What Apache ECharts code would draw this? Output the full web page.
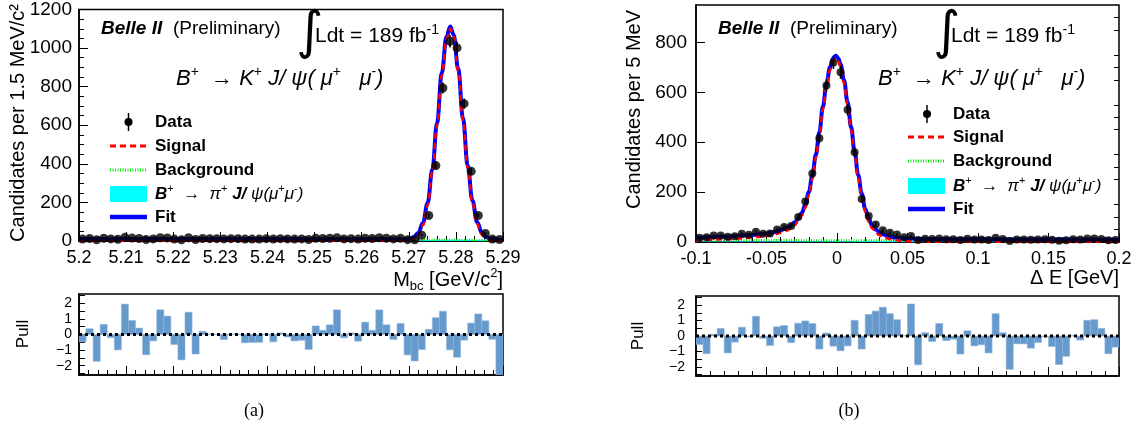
<!DOCTYPE html>
<html>
<head>
<meta charset="utf-8">
<title>B+ to K+ J/psi fits</title>
<script src="https://cdn.jsdelivr.net/npm/echarts@6.0.0/dist/echarts.min.js"></script>
<style>
  html, body { margin: 0; padding: 0; background: #fff; }
  #chart { width: 1141px; height: 434px; }
</style>
</head>
<body>
<div id="chart"></div>
<script>
const FONT = '"Liberation Sans", Arial, Helvetica, sans-serif';

// (a) Mbc, 60 bins of 1.5 MeV from 5.20 to 5.29
const mbcRange = [5.2, 5.29];
const mbcBinWidth = 0.0015;
const mbcCounts = [
  10, 13, 6, 14, 11, 9, 19, 15, 13, 8,
  11, 17, 16, 10, 6, 17, 8, 13, 12, 12,
  11, 12, 12, 10, 10, 10, 12, 10, 12, 11,
  10, 11, 8, 14, 13, 14, 17, 11, 12, 10,
  14, 13, 17, 14, 11, 14, 7, 6, 30, 132,
  391, 793, 1035, 1001, 712, 361, 132, 39, 10, 8
];
const mbcPull = [
  -0.47, 0.37, -1.72, 0.65, -0.2, -0.99, 1.95, 0.9, 0.41, -1.3,
  -0.41, 1.58, 1.18, -0.64, -1.63, 1.43, -1.25, 0.2, 0.02, 0.01,
  -0.32, 0.01, 0.01, -0.53, -0.51, -0.5, 0.03, -0.47, 0.1, -0.16,
  -0.41, -0.37, -0.96, 0.55, 0.27, 0.62, 1.58, -0.21, 0.1, -0.43,
  0.79, 0.27, 1.58, 0.62, -0.32, 0.71, -1.31, -1.7, -0.96, 0.33,
  1.08, 1.49, -0.98, -1.46, -0.36, 0.73, 1.32, 0.88, -0.31, -2.7
];
const mbcFit = [
  [5.2, 11], [5.22, 11], [5.24, 10], [5.26, 9], [5.268, 8.5], [5.27, 11],
  [5.271, 19], [5.272, 42], [5.273, 93], [5.274, 197], [5.275, 371],
  [5.276, 612], [5.277, 869], [5.278, 1059], [5.2788, 1112], [5.2795, 1071],
  [5.2805, 891], [5.2815, 637], [5.2825, 392], [5.2835, 210], [5.2845, 99],
  [5.2855, 44], [5.2865, 19], [5.2875, 11], [5.29, 5]
];
const mbcSignal = [
  [5.2, 0], [5.268, 0], [5.27, 3], [5.271, 10], [5.272, 31], [5.273, 81],
  [5.274, 185], [5.275, 359], [5.276, 599], [5.277, 856], [5.278, 1047],
  [5.2788, 1100], [5.2795, 1059], [5.2805, 879], [5.2815, 625], [5.2825, 381],
  [5.2835, 199], [5.2845, 89], [5.2855, 34], [5.2865, 11], [5.2875, 3], [5.29, 0]
];
const mbcBackground = [
  [5.2, 11], [5.22, 11], [5.24, 10], [5.26, 9], [5.27, 8], [5.275, 7],
  [5.28, 6], [5.285, 4], [5.2875, 3], [5.29, 0]
];
const mbcPiJpsi = [[5.2705, 0], [5.2725, 4], [5.276, 6], [5.282, 6], [5.2875, 5], [5.29, 5]];

// (b) Delta E, 60 bins of 5 MeV from -0.1 to 0.2
const deRange = [-0.1, 0.2];
const deBinWidth = 0.005;
const deCounts = [
  17, 19, 26, 26, 21, 23, 33, 29, 41, 33,
  34, 50, 60, 64, 100, 162, 275, 416, 627, 720,
  680, 530, 360, 172, 104, 70, 47, 37, 30, 19,
  24, 8, 13, 12, 14, 11, 11, 8, 13, 10,
  10, 8, 17, 12, 4, 10, 10, 9, 10, 11,
  9, 5, 7, 11, 10, 14, 14, 12, 7, 8
];
const dePull = [
  -0.55, -1.15, 0.1, 0.49, -1.1, -0.4, 0.57, -0.05, 1.28, -0.15,
  -0.62, 0.6, 0.68, -0.43, 0.83, 0.98, 0.81, -0.85, 0.19, -0.66,
  -0.96, -0.64, 1.02, -0.85, 1.4, 1.62, 1.87, 1.45, 1.06, 0.02,
  2.08, -1.87, 0.21, -0.36, 0.81, -0.3, -0.21, -1.17, 0.34, -0.64,
  -0.57, -1.1, 1.45, 0.21, -2.17, -0.51, -0.51, -0.79, -0.43, -0.05,
  -0.68, -1.85, -1.32, 0.02, -0.26, 1.02, 1.06, 0.49, -1.15, -0.72
];
const deFit = [
  [-0.1, 17], [-0.09, 19], [-0.08, 21], [-0.07, 24], [-0.06, 28], [-0.05, 34],
  [-0.045, 39], [-0.04, 47], [-0.035, 58], [-0.0325, 67], [-0.03, 79],
  [-0.0275, 94], [-0.025, 116], [-0.0225, 148], [-0.02, 200], [-0.0175, 265],
  [-0.015, 350], [-0.0125, 440], [-0.01, 543], [-0.0075, 632], [-0.005, 700],
  [-0.0025, 739], [-0.0009, 747], [0.001, 736], [0.0025, 712], [0.005, 648],
  [0.0075, 560], [0.01, 461], [0.0125, 361], [0.015, 269], [0.0175, 194],
  [0.02, 133], [0.0225, 92], [0.025, 66], [0.0275, 50], [0.03, 39],
  [0.0325, 31], [0.035, 26], [0.04, 19], [0.045, 16], [0.05, 14], [0.06, 12],
  [0.08, 11], [0.1, 11], [0.15, 10], [0.2, 9]
];
const deSignal = [
  [-0.1, 7], [-0.09, 9], [-0.08, 11], [-0.07, 14], [-0.06, 18], [-0.05, 24],
  [-0.045, 29], [-0.04, 37], [-0.035, 47], [-0.0325, 56], [-0.03, 68],
  [-0.0275, 83], [-0.025, 105], [-0.0225, 137], [-0.02, 189], [-0.0175, 254],
  [-0.015, 339], [-0.0125, 429], [-0.01, 532], [-0.0075, 621], [-0.005, 689],
  [-0.0025, 728], [-0.0009, 736], [0.001, 725], [0.0025, 701], [0.005, 637],
  [0.0075, 549], [0.01, 450], [0.0125, 350], [0.015, 258], [0.0175, 183],
  [0.02, 122], [0.0225, 81], [0.025, 55], [0.0275, 39], [0.03, 28],
  [0.0325, 20], [0.035, 15], [0.04, 8], [0.045, 5], [0.05, 3], [0.06, 1],
  [0.08, 0], [0.2, 0]
];
const deBackground = [[-0.1, 8], [0.2, 6]];
const dePiJpsi = [[-0.1, 2], [0, 3], [0.05, 4], [0.1, 3], [0.2, 2]];

function binCenters(lo, w, n) {
  return Array.from({ length: n }, (_, i) => +(lo + w * (i + 0.5)).toFixed(6));
}
const mbcX = binCenters(mbcRange[0], mbcBinWidth, mbcCounts.length);
const deX = binCenters(deRange[0], deBinWidth, deCounts.length);

function errorBars(params, api) {
  const x = api.value(0), n = api.value(1), e = Math.sqrt(n);
  const a = api.coord([x, n + e]), b = api.coord([x, n - e]);
  return { type: 'line', shape: { x1: a[0], y1: a[1], x2: b[0], y2: b[1] },
    style: { stroke: '#000', lineWidth: 1.5 } };
}
function pullBars(params, api) {
  const x = api.value(0), v = api.value(1), half = api.value(2) / 2;
  const a = api.coord([x - half, v]), b = api.coord([x + half, 0]);
  return { type: 'rect',
    shape: { x: a[0], y: Math.min(a[1], b[1]), width: b[0] - a[0], height: Math.abs(b[1] - a[1]) },
    style: { fill: '#6699cc', stroke: '#8db3dc', lineWidth: 0.6 } };
}

function fitSeries(ix, iy, fit, sig, bkg, pi, counts, xs, dot) {
  const pts = xs.map((x, i) => [x, counts[i]]);
  return [
    { type: 'line', xAxisIndex: ix, yAxisIndex: iy, data: pi, symbol: 'none',
      lineStyle: { width: 0 }, areaStyle: { color: '#00ffff', opacity: 1 }, z: 2 },
    { type: 'line', xAxisIndex: ix, yAxisIndex: iy, data: bkg, symbol: 'none',
      lineStyle: { color: '#00ee00', width: 2, type: [1, 1.5] }, z: 3 },
    { type: 'line', xAxisIndex: ix, yAxisIndex: iy, data: fit, symbol: 'none', smooth: 0.4,
      smoothMonotone: 'x', lineStyle: { color: '#0000ff', width: 4 }, z: 4 },
    { type: 'line', xAxisIndex: ix, yAxisIndex: iy, data: sig, symbol: 'none', smooth: 0.4,
      smoothMonotone: 'x', lineStyle: { color: '#ff0000', width: 2.5, type: [6, 4] }, z: 5 },
    { type: 'custom', xAxisIndex: ix, yAxisIndex: iy, data: pts, renderItem: errorBars, z: 6 },
    { type: 'scatter', xAxisIndex: ix, yAxisIndex: iy, data: pts, symbolSize: dot,
      itemStyle: { color: '#000' }, z: 7 }
  ];
}
function pullSeries(ix, iy, xs, pulls, w, range) {
  return [
    { type: 'custom', xAxisIndex: ix, yAxisIndex: iy, clip: true,
      data: xs.map((x, i) => [x, pulls[i], w]), renderItem: pullBars, z: 2 },
    { type: 'line', xAxisIndex: ix, yAxisIndex: iy, data: [[range[0], 0], [range[1], 0]],
      symbol: 'none', lineStyle: { color: '#000', width: 3, type: [3, 3] }, z: 3 }
  ];
}

const black = { onZero: false, lineStyle: { color: '#000', width: 1.5 } };
const plain = v => '' + v;
function xAxis(grid, range, interval, labels) {
  return { type: 'value', gridIndex: grid, min: range[0], max: range[1], interval: interval,
    axisLine: black, splitLine: { show: false },
    axisTick: { inside: true, length: 9, lineStyle: { color: '#000' } },
    minorTick: { show: true, splitNumber: 5, length: 5, lineStyle: { color: '#000' } },
    axisLabel: { show: labels, color: '#000', fontFamily: FONT, fontSize: 18, margin: 8, formatter: plain } };
}
function pullY(grid, margin) {
  return { type: 'value', gridIndex: grid, min: -2.6, max: 2.6,
    axisLine: black, splitLine: { show: false },
    axisTick: { inside: true, length: 6, customValues: [-2.5, -2, -1.5, -1, -0.5, 0, 0.5, 1, 1.5, 2, 2.5],
      lineStyle: { color: '#000' } },
    axisLabel: { customValues: [-2, -1, 0, 1, 2], color: '#000', fontFamily: FONT, fontSize: 14,
      margin: margin, formatter: v => (v < 0 ? '\u2212' + Math.abs(v) : '' + v) } };
}

function t(x, y, text, font, extra) {
  return Object.assign({ type: 'text', x: x, y: y, z: 100,
    style: Object.assign({ text: text, font: font, fill: '#000', align: 'left', verticalAlign: 'middle',
      textAlign: 'left', textVerticalAlign: 'middle' }, (extra && extra.style) || {}) },
    extra && extra.el || {});
}
const supStyle = { fontFamily: FONT, fontSize: 13, lineHeight: 13, verticalAlign: 'top', fill: '#000' };
const subStyle = { fontFamily: FONT, fontSize: 13, lineHeight: 13, verticalAlign: 'bottom', fill: '#000' };

function header(x0, intX, ldtX, fx) {
  return [
    t(x0, 29, 'Belle II', 'italic bold 19px ' + FONT),
    t(x0 + 72, 29, '(Preliminary)', '19px ' + FONT),
    t(intX, 34, '\u222B', '52px "DejaVu Sans"'),
    t(ldtX, 36, '{n|Ldt = 189 fb}{s|-1}', '21px ' + FONT, { style: { rich: {
      n: { fontFamily: FONT, fontSize: 21, lineHeight: 26, fill: '#000' },
      s: Object.assign({}, supStyle, { fontSize: 14 }) } } }),
    t(fx, 79, '{i|B}{s|+}{n|  \u2192 }{i|K}{s|+}{i| J/ }{i|\u03C8(}{i| \u03BC}{s|+}{i|   \u03BC}{s|-}{i|)}', '22px ' + FONT,
      { style: { rich: {
        i: { fontFamily: FONT, fontSize: 22, fontStyle: 'italic', lineHeight: 28, fill: '#000' },
        n: { fontFamily: FONT, fontSize: 22, lineHeight: 28, fill: '#000' },
        s: Object.assign({}, supStyle, { fontSize: 14, lineHeight: 14 }) } } })
  ];
}

function legend(x1, x2, tx, mx, ys) {
  const f = 'bold 17px ' + FONT;
  return [
    { type: 'line', z: 100, shape: { x1: mx, y1: ys[0] - 9, x2: mx, y2: ys[0] + 9 }, style: { stroke: '#000', lineWidth: 1.5 } },
    { type: 'circle', z: 100, shape: { cx: mx, cy: ys[0], r: 4 }, style: { fill: '#000' } },
    t(tx, ys[0], 'Data', f),
    { type: 'line', z: 100, shape: { x1: x1, y1: ys[1], x2: x2, y2: ys[1] },
      style: { stroke: '#ff0000', lineWidth: 3, lineDash: [6, 4] } },
    t(tx, ys[1], 'Signal', f),
    { type: 'line', z: 100, shape: { x1: x1, y1: ys[2], x2: x2, y2: ys[2] },
      style: { stroke: '#00ee00', lineWidth: 3, lineDash: [1, 1.5] } },
    t(tx, ys[2], 'Background', f),
    { type: 'rect', z: 100, shape: { x: x1, y: ys[3] - 8, width: x2 - x1, height: 16 }, style: { fill: '#00ffff' } },
    t(tx, ys[3], '{b|B}{s|+}{n|  \u2192  }{i|\u03C0}{s|+}{b| J/}{i| \u03C8(\u03BC}{s|+}{i|\u03BC}{s|-}{i|)}', f,
      { style: { rich: {
        b: { fontFamily: FONT, fontSize: 17, fontStyle: 'italic', fontWeight: 'bold', lineHeight: 22, fill: '#000' },
        i: { fontFamily: FONT, fontSize: 17, fontStyle: 'italic', lineHeight: 22, fill: '#000' },
        n: { fontFamily: FONT, fontSize: 17, lineHeight: 22, fill: '#000' },
        s: Object.assign({}, supStyle, { fontSize: 11, lineHeight: 11 }) } } }),
    { type: 'line', z: 100, shape: { x1: x1, y1: ys[4], x2: x2, y2: ys[4] }, style: { stroke: '#0000ff', lineWidth: 4.5 } },
    t(tx, ys[4], 'Fit', f)
  ];
}

const titleFont = '20px ' + FONT;
const graphics = [].concat(
  header(101, 296, 315, 176),
  header(718, 933, 951, 878),
  legend(110, 147, 155, 128.5, [122, 146, 170, 194, 217]),
  legend(908, 945, 953, 927, [114, 137, 161, 186, 209]),
  [
    t(18, 4, 'Candidates per 1.5 MeV/c\u00B2', titleFont,
      { el: { rotation: Math.PI / 2 }, style: { align: 'right', textAlign: 'right' } }),
    t(634, 10, 'Candidates per 5 MeV', titleFont,
      { el: { rotation: Math.PI / 2 }, style: { align: 'right', textAlign: 'right' } }),
    t(503, 280, '{n|M}{b|bc}{n| [GeV/c}{s|2}{n|]}', titleFont, { style: { align: 'right', textAlign: 'right', rich: {
      n: { fontFamily: FONT, fontSize: 20, lineHeight: 26, fill: '#000' },
      b: subStyle, s: supStyle } } }),
    t(1119, 278, '\u0394 E [GeV]', titleFont, { style: { align: 'right', textAlign: 'right' } }),
    t(23, 334, 'Pull', '17px ' + FONT, { el: { rotation: Math.PI / 2 }, style: { align: 'center', textAlign: 'center' } }),
    t(638, 336, 'Pull', '17px ' + FONT, { el: { rotation: Math.PI / 2 }, style: { align: 'center', textAlign: 'center' } }),
    t(254, 411, '(a)', '18px "Liberation Serif", serif', { style: { align: 'center', textAlign: 'center' } }),
    t(849, 411, '(b)', '18px "Liberation Serif", serif', { style: { align: 'center', textAlign: 'center' } })
  ]
);

const chart = echarts.init(document.getElementById('chart'));
chart.setOption({
  animation: false,
  backgroundColor: '#fff',
  textStyle: { fontFamily: FONT },
  grid: [
    { left: 79, top: 5, width: 424, height: 236, show: true, borderColor: '#000', borderWidth: 1.5 },
    { left: 79, top: 294, width: 424, height: 81, show: true, borderColor: '#000', borderWidth: 1.5 },
    { left: 696, top: 5, width: 423, height: 237, show: true, borderColor: '#000', borderWidth: 1.5 },
    { left: 696, top: 296, width: 423, height: 80, show: true, borderColor: '#000', borderWidth: 1.5 }
  ],
  xAxis: [
    xAxis(0, mbcRange, 0.01, true),
    xAxis(1, mbcRange, 0.01, false),
    xAxis(2, deRange, 0.05, true),
    xAxis(3, deRange, 0.05, false)
  ],
  yAxis: [
    { type: 'value', gridIndex: 0, min: 0, max: 1200, interval: 200,
      axisLine: black, splitLine: { show: false },
      axisTick: { inside: true, length: 9, lineStyle: { color: '#000' } },
      minorTick: { show: true, splitNumber: 4, length: 5, lineStyle: { color: '#000' } },
      axisLabel: { color: '#000', fontFamily: FONT, fontSize: 19, margin: 7, formatter: plain } },
    pullY(1, 7),
    { type: 'value', gridIndex: 2, min: 0, max: 950,
      axisLine: black, splitLine: { show: false },
      axisTick: { inside: true, length: 9, customValues: [0, 200, 400, 600, 800], lineStyle: { color: '#000' } },
      axisLabel: { customValues: [0, 200, 400, 600, 800], color: '#000', fontFamily: FONT, fontSize: 19,
        margin: 9, formatter: plain } },
    pullY(3, 11),
    { type: 'value', gridIndex: 2, min: 0, max: 950,
      axisLine: { show: false, onZero: false }, splitLine: { show: false }, axisLabel: { show: false },
      axisTick: { inside: true, length: 5, lineStyle: { color: '#000' },
        customValues: [50, 100, 150, 250, 300, 350, 450, 500, 550, 650, 700, 750, 850, 900] } }
  ],
  series: [].concat(
    fitSeries(0, 0, mbcFit, mbcSignal, mbcBackground, mbcPiJpsi, mbcCounts, mbcX, 9),
    pullSeries(1, 1, mbcX, mbcPull, mbcBinWidth, mbcRange),
    fitSeries(2, 2, deFit, deSignal, deBackground, dePiJpsi, deCounts, deX, 8),
    pullSeries(3, 3, deX, dePull, deBinWidth, deRange)
  ),
  graphic: { elements: graphics }
});
</script>
</body>
</html>
